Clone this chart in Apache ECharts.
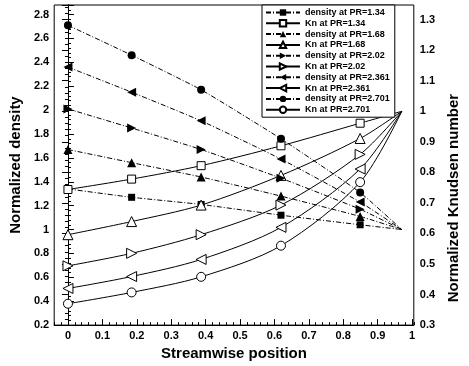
<!DOCTYPE html>
<html>
<head>
<meta charset="utf-8">
<script src="https://cdn.jsdelivr.net/npm/echarts@6/dist/echarts.min.js"></script>
<style>
html, body { margin: 0; padding: 0; background: #fff; }
#chart { width: 469px; height: 366px; }
</style>
</head>
<body>
<div id="chart"></div>
<script>
// Streamwise stations where the profiles were sampled
const positions = [0, 0.185, 0.387, 0.619, 0.849, 0.97];

// Pressure ratios of the five cases
const pressureRatios = ['1.34', '1.68', '2.02', '2.361', '2.701'];

// Normalized density (left axis)
const density134  = [1.34, 1.27, 1.21, 1.12, 1.04, 1.0];
const density168  = [1.67, 1.56, 1.44, 1.28, 1.11, 1.0];
const density202  = [2.01, 1.85, 1.67, 1.43, 1.17, 1.0];
const density2361 = [2.36, 2.15, 1.91, 1.59, 1.23, 1.0];
const density2701 = [2.71, 2.46, 2.17, 1.76, 1.31, 1.0];

// Normalized Knudsen number (right axis)
const kn134  = [0.744, 0.778, 0.822, 0.887, 0.961, 1.0];
const kn168  = [0.596, 0.639, 0.693, 0.790, 0.911, 1.0];
const kn202  = [0.494, 0.535, 0.596, 0.693, 0.859, 1.0];
const kn2361 = [0.420, 0.459, 0.515, 0.620, 0.811, 1.0];
const kn2701 = [0.370, 0.407, 0.458, 0.560, 0.768, 1.0];

// Major tick labels of the streamwise axis
const xTicks = [0, 0.1, 0.2, 0.3, 0.4, 0.5, 0.6, 0.7, 0.8, 0.9, 1];

const densitySets = [density134, density168, density202, density2361, density2701];
const knSets = [kn134, kn168, kn202, kn2361, kn2701];

// marker shape and rotation per pressure ratio
const shapes = [
  { symbol: 'rect', rotate: 0, filled: 7, open: 8 },
  { symbol: 'triangle', rotate: 0, filled: 9, open: 10 },
  { symbol: 'triangle', rotate: -90, filled: 9, open: 10 },
  { symbol: 'triangle', rotate: 90, filled: 9, open: 10 },
  { symbol: 'circle', rotate: 0, filled: 8, open: 9 }
];

const FONT = 'Liberation Sans, Arial, sans-serif';

// the outlet point carries no marker
function toPoints(values) {
  return values.map((v, i) => i === values.length - 1
    ? { value: [positions[i], v], symbol: 'none' }
    : [positions[i], v]);
}

const series = [];
const legendNames = [];
pressureRatios.forEach((pr, k) => {
  const dName = 'density at PR=' + pr;
  const kName = 'Kn at PR=' + pr;
  legendNames.push(dName, kName);
  series.push({
    name: dName, type: 'line', yAxisIndex: 0, xAxisIndex: 0,
    data: toPoints(densitySets[k]),
    symbol: shapes[k].symbol, symbolRotate: shapes[k].rotate, symbolSize: shapes[k].filled,
    showAllSymbol: true, smooth: 0.15,
    itemStyle: { color: '#000', borderColor: '#000', borderWidth: 0 },
    lineStyle: { color: '#000', width: 1, type: [5, 2, 1, 2] },
    emphasis: { disabled: true }, animation: false, z: 3
  });
  series.push({
    name: kName, type: 'line', yAxisIndex: 1, xAxisIndex: 0,
    data: toPoints(knSets[k]),
    symbol: shapes[k].symbol, symbolRotate: shapes[k].rotate, symbolSize: shapes[k].open,
    showAllSymbol: true, smooth: 0.3,
    itemStyle: { color: '#fff', borderColor: '#000', borderWidth: 1 },
    lineStyle: { color: '#000', width: 1, type: 'solid' },
    emphasis: { disabled: true }, animation: false, z: 3
  });
});

const tickLabel = { color: '#000', fontFamily: FONT, fontWeight: 'bold', fontSize: 11 };
const axisTitle = { color: '#000', fontFamily: FONT, fontWeight: 'bold', fontSize: 15 };
const isMultiple = (v, step) => Math.abs(v / step - Math.round(v / step)) < 1e-6;

const chart = echarts.init(document.getElementById('chart'), null, { renderer: 'canvas' });
chart.setOption({
  animation: false,
  backgroundColor: '#fff',
  grid: { left: 48, right: 46, top: 5, bottom: 36, show: true, borderColor: '#000', borderWidth: 1, backgroundColor: 'transparent' },
  legend: {
    data: legendNames,
    orient: 'vertical', left: 262, top: 5,
    itemWidth: 34, itemHeight: 8, itemGap: 1.8,
    padding: [3, 5, 3, 3],
    borderColor: '#000', borderWidth: 1, backgroundColor: '#fff',
    textStyle: { color: '#000', fontFamily: FONT, fontWeight: 'bold', fontSize: 9, lineHeight: 8 },
    selectedMode: false
  },
  xAxis: [
    {
      type: 'value', min: -0.04, max: 1.005,
      name: 'Streamwise position', nameLocation: 'middle', nameGap: 17, nameTextStyle: axisTitle,
      axisLine: { lineStyle: { color: '#000', width: 1 } },
      axisTick: { inside: true, length: 6, customValues: xTicks, lineStyle: { color: '#000' } },
      axisLabel: { customValues: xTicks, margin: 5, ...tickLabel, formatter: v => String(+v.toFixed(1)) },
      splitLine: { show: false }
    },
    {
      type: 'value', min: -0.04, max: 1.005, interval: 0.02, position: 'bottom',
      axisLine: { show: false },
      axisTick: { inside: true, length: 3, lineStyle: { color: '#000' } },
      axisLabel: { show: false },
      splitLine: { show: false }
    }
  ],
  yAxis: [
    {
      type: 'value', min: 0.2, max: 2.88, interval: 0.2, position: 'left',
      name: 'Normalized density', nameLocation: 'middle', nameGap: 20, nameTextStyle: axisTitle,
      axisLine: { show: true, lineStyle: { color: '#000', width: 1 } },
      axisTick: { show: true, inside: true, length: 6, lineStyle: { color: '#000' } },
      minorTick: { show: true, splitNumber: 5, length: 3, lineStyle: { color: '#000' } },
      axisLabel: { margin: 5, ...tickLabel, formatter: v => isMultiple(v, 0.2) && v < 2.85 ? String(+v.toFixed(1)) : '' },
      splitLine: { show: false }, minorSplitLine: { show: false }
    },
    {
      type: 'value', min: 0.3, max: 1.348, interval: 0.1, position: 'right',
      name: 'Normalized Knudsen number', nameLocation: 'middle', nameGap: 31, nameRotate: 90,
      nameTextStyle: { ...axisTitle, padding: [0, 66, 0, 0] },
      axisLine: { show: true, lineStyle: { color: '#000', width: 1 } },
      axisTick: { show: true, inside: true, length: 6, lineStyle: { color: '#000' } },
      minorTick: { show: true, splitNumber: 5, length: 3, lineStyle: { color: '#000' } },
      axisLabel: { margin: 6, ...tickLabel, formatter: v => isMultiple(v, 0.1) && v < 1.33 ? String(+v.toFixed(1)) : '' },
      splitLine: { show: false }, minorSplitLine: { show: false }
    }
  ],
  series: series
});
</script>
</body>
</html>
